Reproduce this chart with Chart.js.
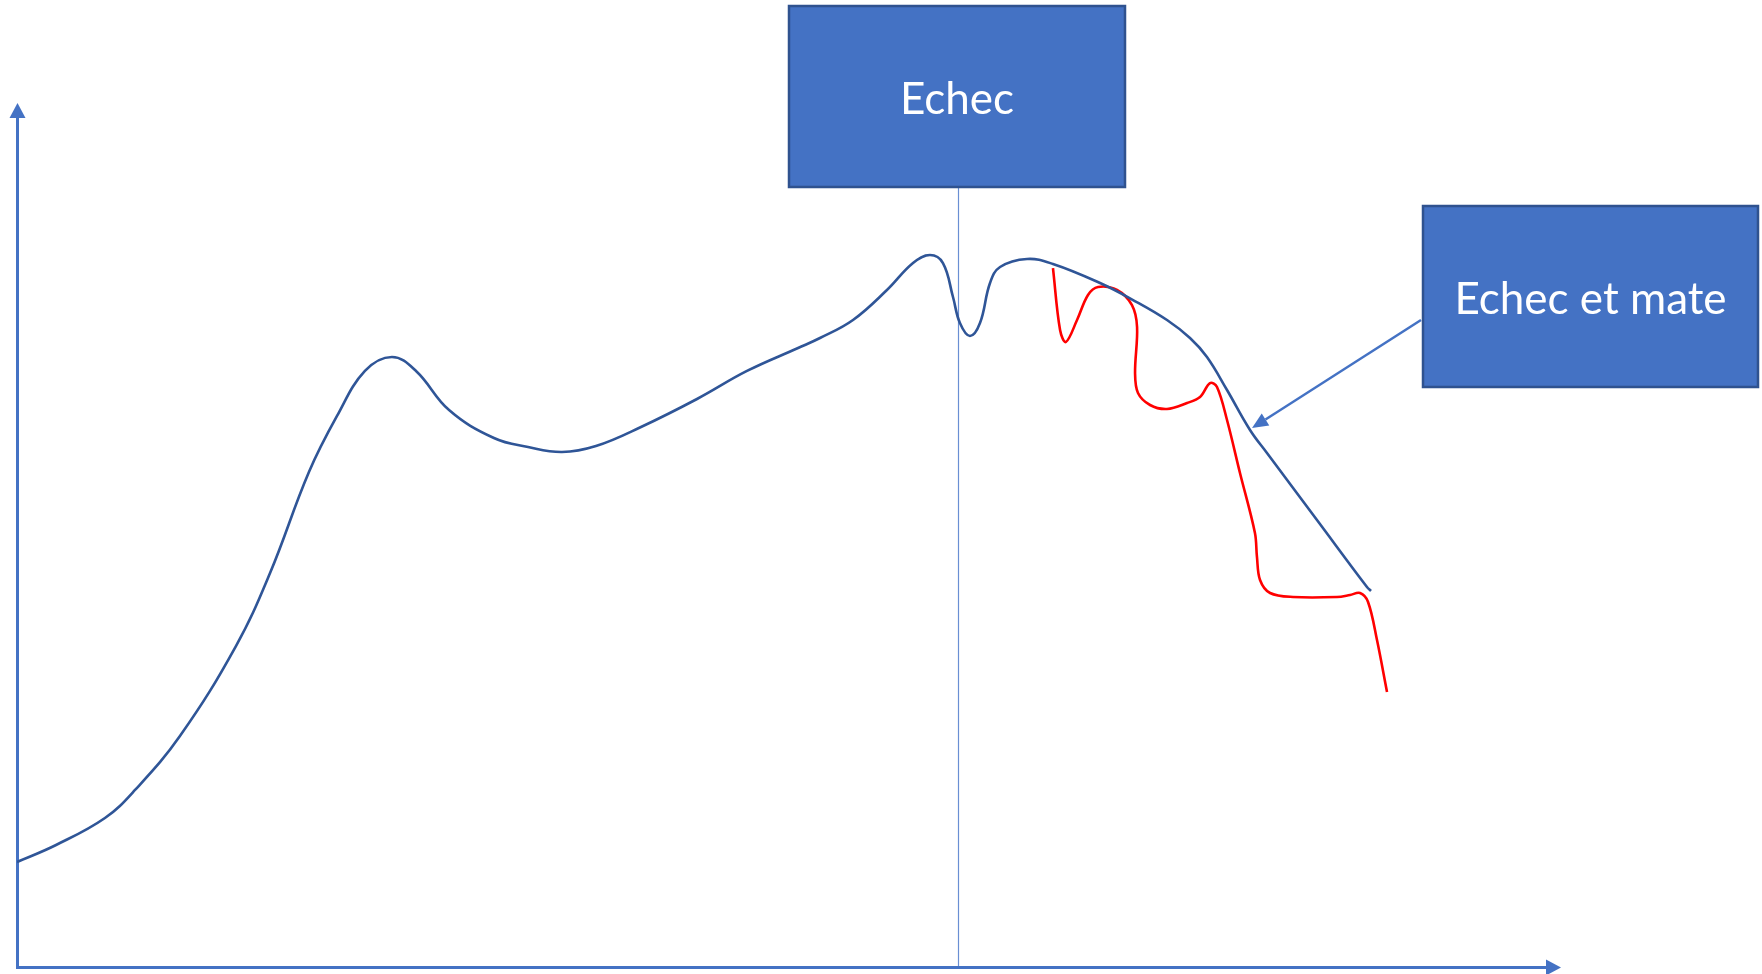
<!DOCTYPE html>
<html>
<head>
<meta charset="utf-8">
<script src="https://cdn.jsdelivr.net/npm/chart.js@4/dist/chart.umd.min.js"></script>
<style>
  html, body { margin: 0; padding: 0; background: #ffffff; }
  #wrap { width: 1762px; height: 974px; position: relative; }
</style>
</head>
<body>
<div id="wrap"><canvas id="c"></canvas></div>
<script>
// ---- data (x: time 0-100, y: level 0-100) ----
const blueX = [0.00, 2.53, 5.70, 7.65, 10.56, 14.19, 16.40, 18.92, 20.74, 22.55, 24.30, 25.86, 28.00, 30.91, 33.12, 35.32, 37.52, 40.44, 44.07, 47.31, 50.62, 52.04, 54.18, 56.38, 58.07, 59.17, 60.01, 60.66, 61.11, 61.76, 62.41, 63.06, 63.71, 65.46, 67.14, 70.19, 72.33, 74.53, 76.02, 77.12, 78.42, 79.91, 81.01, 84.25, 87.49, 87.75];
const blueY = [12.06, 14.04, 17.17, 20.42, 26.68, 37.12, 45.59, 57.31, 63.81, 69.03, 70.65, 69.03, 64.50, 61.25, 60.21, 59.63, 60.32, 62.53, 65.78, 69.03, 71.69, 72.85, 74.94, 78.42, 81.55, 82.48, 81.55, 77.61, 74.59, 73.09, 74.59, 79.23, 81.09, 82.02, 81.44, 79.23, 77.26, 74.94, 72.85, 70.65, 66.82, 62.18, 59.51, 51.74, 43.97, 43.50];

const redX = [67.14, 67.60, 67.98, 68.70, 69.41, 70.06, 71.29, 72.26, 72.59, 72.46, 72.65, 73.43, 74.53, 75.83, 76.67, 77.32, 77.77, 78.42, 79.26, 80.23, 80.36, 80.56, 81.21, 82.70, 85.55, 86.39, 87.04, 87.56, 88.14, 88.79];
const redY = [80.97, 73.78, 72.39, 74.94, 77.84, 78.77, 78.42, 76.68, 74.13, 68.79, 66.47, 65.08, 64.62, 65.31, 66.01, 67.63, 67.17, 63.34, 57.19, 50.23, 47.45, 44.78, 43.27, 42.81, 42.81, 43.04, 43.27, 42.23, 37.82, 31.79];

const labels = ["Echec", "Echec et mate"];
const echecX = 61.0;              // vertical marker position (x value)
const mateArrowTip = [80.04, 62.4]; // point the arrow designates (x, y)

const toPts = (xs, ys) => xs.map((x, i) => ({ x: x, y: ys[i] }));

const AXIS = '#4472C4';
const BOX_FILL = '#4472C4';
const BOX_EDGE = '#2F528F';

const decor = {
  id: 'decor',
  beforeDatasetsDraw(chart) {
    const ctx = chart.ctx, a = chart.chartArea;
    const xs = chart.scales.x;
    ctx.save();
    // vertical marker line
    const vx = Math.round(xs.getPixelForValue(echecX)) + 0.5;
    ctx.strokeStyle = '#6A8FD3';
    ctx.lineWidth = 1.2;
    ctx.beginPath();
    ctx.moveTo(vx, 187);
    ctx.lineTo(vx, a.bottom);
    ctx.stroke();
    // axes
    ctx.strokeStyle = AXIS;
    ctx.fillStyle = AXIS;
    ctx.lineWidth = 3;
    ctx.beginPath();
    ctx.moveTo(a.left + 0.5, a.bottom + 1.5);
    ctx.lineTo(a.left + 0.5, a.top + 12);
    ctx.stroke();
    ctx.beginPath();
    ctx.moveTo(a.left + 0.5, a.top - 1);
    ctx.lineTo(a.left - 7.5, a.top + 14);
    ctx.lineTo(a.left + 8.5, a.top + 14);
    ctx.closePath();
    ctx.fill();
    ctx.beginPath();
    ctx.moveTo(a.left - 1, a.bottom + 1.5);
    ctx.lineTo(a.right - 12, a.bottom + 1.5);
    ctx.stroke();
    ctx.beginPath();
    ctx.moveTo(a.right + 1, a.bottom + 1.5);
    ctx.lineTo(a.right - 14, a.bottom - 6.5);
    ctx.lineTo(a.right - 14, a.bottom + 9.5);
    ctx.closePath();
    ctx.fill();
    ctx.restore();
  },
  afterDatasetsDraw(chart) {
    const ctx = chart.ctx;
    const xs = chart.scales.x, ys = chart.scales.y;
    ctx.save();
    const boxes = [
      { x: 789, y: 6, w: 336, h: 181, text: labels[0] },
      { x: 1423, y: 206, w: 335, h: 181, text: labels[1] }
    ];
    boxes.forEach(b => {
      ctx.fillStyle = BOX_FILL;
      ctx.fillRect(b.x, b.y, b.w, b.h);
      ctx.strokeStyle = BOX_EDGE;
      ctx.lineWidth = 2.5;
      ctx.strokeRect(b.x, b.y, b.w, b.h);
      ctx.fillStyle = '#ffffff';
      ctx.font = '44px Lato, "Open Sans", sans-serif';
      ctx.textAlign = 'center';
      ctx.textBaseline = 'middle';
      ctx.fillText(b.text, b.x + b.w / 2, b.y + b.h / 2 + 3);
    });
    // arrow from second box to curve
    const tx = xs.getPixelForValue(mateArrowTip[0]);
    const ty = ys.getPixelForValue(mateArrowTip[1]);
    const sx = 1421, sy = 320;
    const ang = Math.atan2(ty - sy, tx - sx);
    const hl = 16, hw = 7;
    const bx = tx - hl * Math.cos(ang), by = ty - hl * Math.sin(ang);
    ctx.strokeStyle = AXIS;
    ctx.fillStyle = AXIS;
    ctx.lineWidth = 2.5;
    ctx.beginPath();
    ctx.moveTo(sx, sy);
    ctx.lineTo(bx, by);
    ctx.stroke();
    ctx.beginPath();
    ctx.moveTo(tx, ty);
    ctx.lineTo(bx + hw * Math.sin(ang), by - hw * Math.cos(ang));
    ctx.lineTo(bx - hw * Math.sin(ang), by + hw * Math.cos(ang));
    ctx.closePath();
    ctx.fill();
    ctx.restore();
  }
};

new Chart(document.getElementById('c'), {
  type: 'line',
  data: {
    datasets: [
      {
        label: 'parcours',
        data: toPts(blueX, blueY),
        borderColor: '#2F5597',
        borderWidth: 2.6,
        pointRadius: 0,
        tension: 0.4,
        fill: false
      },
      {
        label: 'chute',
        data: toPts(redX, redY),
        borderColor: '#FF0000',
        borderWidth: 2.6,
        pointRadius: 0,
        tension: 0.35,
        fill: false
      }
    ]
  },
  options: {
    responsive: true,
    maintainAspectRatio: false,
    animation: false,
    layout: { padding: { left: 17, right: 202, top: 104, bottom: 8 } },
    plugins: { legend: { display: false }, tooltip: { enabled: false } },
    scales: {
      x: { type: 'linear', min: 0, max: 100, display: false },
      y: { type: 'linear', min: 0, max: 100, display: false }
    }
  },
  plugins: [decor]
});
</script>
</body>
</html>
